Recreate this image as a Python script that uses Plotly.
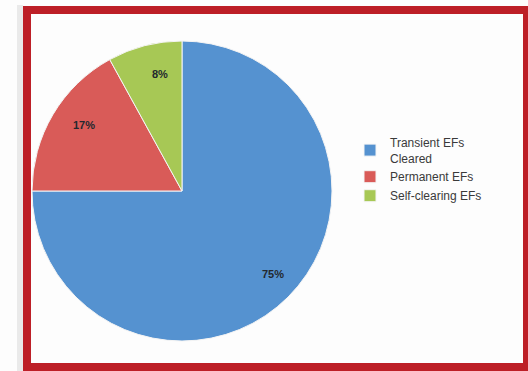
import math
import plotly.graph_objects as go

# Earth-fault categories and their shares (%)
categories = ["Transient EFs<br>Cleared", "Permanent EFs", "Self-clearing EFs"]
shares = [75, 17, 8]
slice_colors = ["#5592d0", "#d95b58", "#a7c855"]

W, H = 528, 371

fig = go.Figure()

# pie: circle centred near (182, 191) px
cx, cy, r = 182, 191, 150
dom_x = [(cx - r) / W, (cx + r) / W]
dom_y = [(H - cy - r) / H, (H - cy + r) / H]
fig.add_trace(go.Pie(
    labels=categories,
    values=shares,
    sort=False,
    direction="clockwise",
    rotation=0,
    marker=dict(colors=slice_colors, line=dict(color="#f4f4f4", width=1)),
    textinfo="none",
    domain=dict(x=dom_x, y=dom_y),
    hoverinfo="label+percent",
    showlegend=True,
))

# percentage labels, placed towards the rim at each slice's mid-angle
total = sum(shares)
annotations = []
start = 0.0
label_frac = 0.86
for v in shares:
    mid = (start + v / 2) / total * 2 * math.pi
    px = cx + label_frac * r * math.sin(mid)
    py = cy - label_frac * r * math.cos(mid)
    annotations.append(dict(
        x=px / W, y=1 - py / H, xref="paper", yref="paper",
        text=f"<b>{round(v / total * 100)}%</b>", showarrow=False,
        font=dict(family="Liberation Sans, Arial, sans-serif", size=11, color="#23282e"),
    ))
    start += v

shapes = [
    # soft grey shadow on the left of the frame
    dict(type="rect", xref="paper", yref="paper",
         x0=17 / W, x1=23 / W, y0=0, y1=1 - 5 / H,
         line=dict(width=0), fillcolor="rgba(170,170,170,0.22)", layer="below"),
    # red frame
    dict(type="rect", xref="paper", yref="paper",
         x0=27 / W, x1=527 / W, y0=1 - 367 / H, y1=1 - 10 / H,
         line=dict(color="#bd1f27", width=8), fillcolor="rgba(0,0,0,0)"),
]

fig.update_layout(
    width=W, height=H,
    margin=dict(l=0, r=0, t=0, b=0),
    paper_bgcolor="#fdfdfd",
    plot_bgcolor="#fdfdfd",
    shapes=shapes,
    annotations=annotations,
    legend=dict(
        x=350 / W, y=1 - 128 / H, xanchor="left", yanchor="top",
        font=dict(family="Liberation Sans, Arial, sans-serif", size=12, color="#3a3a3a"),
        bgcolor="rgba(0,0,0,0)",
        itemwidth=30,
    ),
)

fig.write_html("out.html")
